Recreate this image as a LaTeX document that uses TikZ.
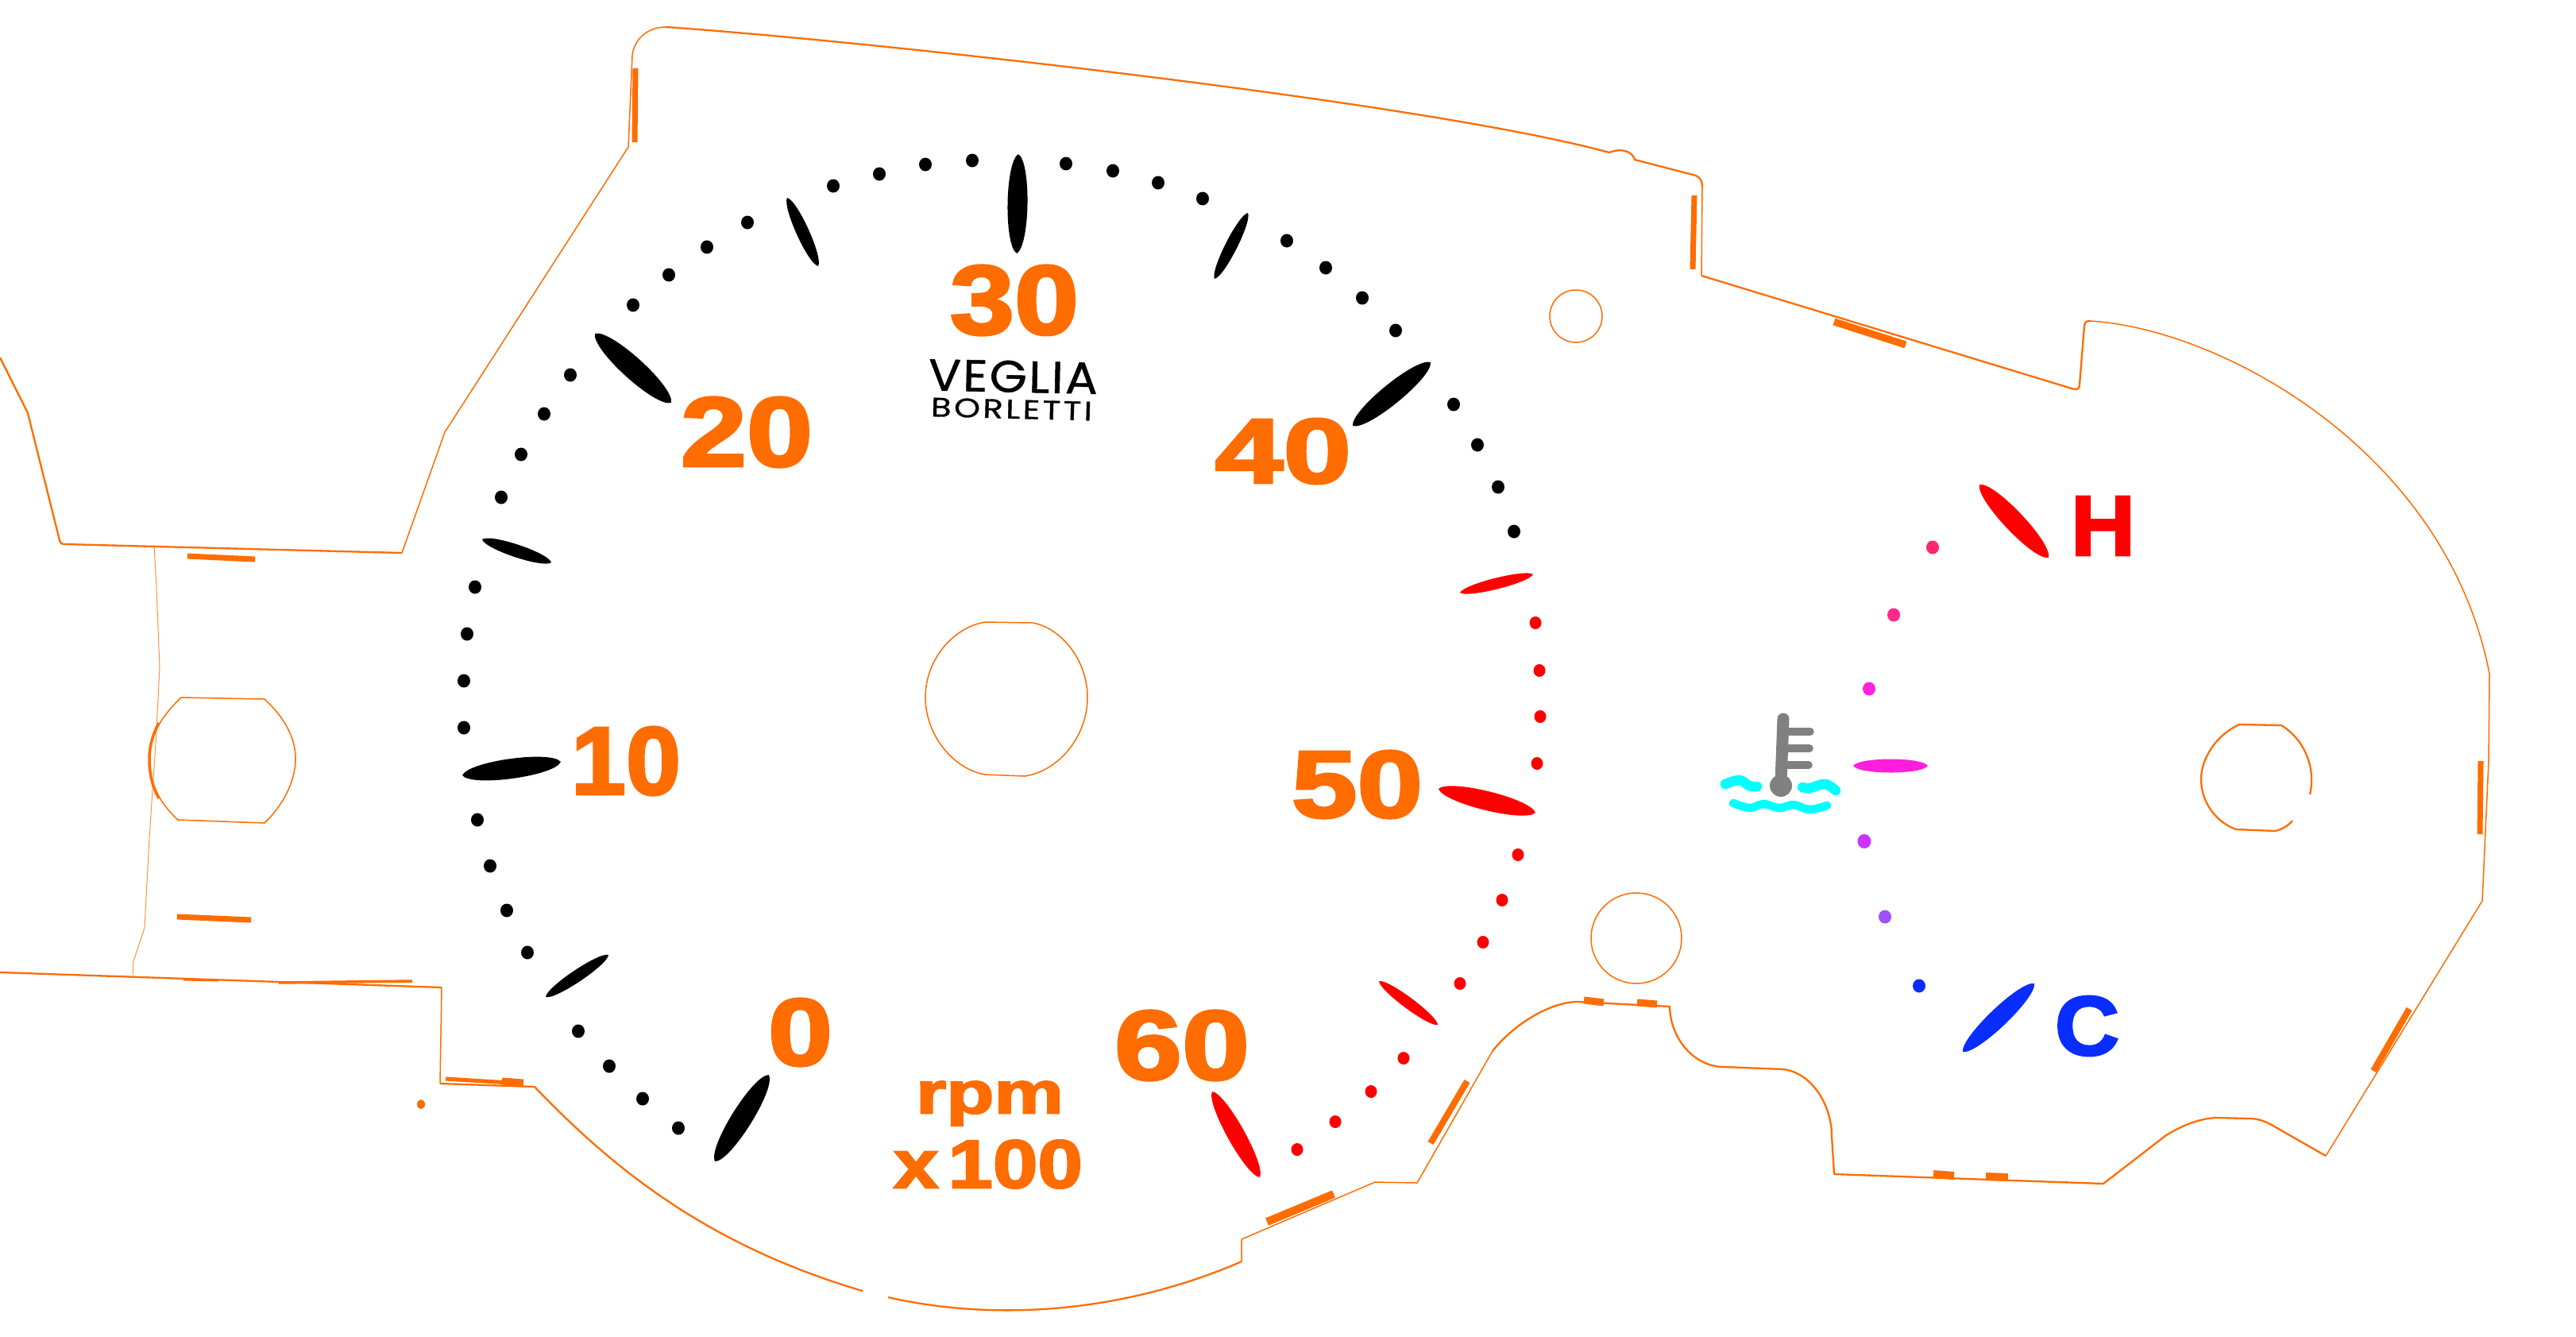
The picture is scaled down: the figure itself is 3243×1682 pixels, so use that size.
\documentclass[tikz,border=0pt]{standalone}
\usepackage{fontspec}
\newfontfamily\numfont[FakeBold=2.6]{Liberation Sans Bold}
\newfontfamily\logofont[FakeBold=0.9]{Poppins}
\definecolor{org}{HTML}{FF6C00}
\definecolor{rd}{HTML}{FF0000}
\definecolor{bl}{HTML}{0A2DFF}
\definecolor{mg}{HTML}{FF1EDC}
\definecolor{cy}{HTML}{00FFFF}
\definecolor{thermo}{HTML}{808080}
\tikzset{
  edge/.style={draw=org,line width=2.3pt,line join=round},
  thinedge/.style={draw=org,line width=1.5pt,line join=round},
  hair/.style={draw=org!75,line width=1pt,line join=round},
  slug/.style={draw=org,line width=7pt},
  lbl/.style={inner sep=0pt,outer sep=0pt,text=org},
  wave/.style={draw=cy,line cap=round,line join=round},
  therm/.style={draw=thermo,line cap=round},
}
\newcommand{\gaugetick}[6]{%
  \pgfmathsetmacro{\dxx}{#3-#1}\pgfmathsetmacro{\dyy}{#4-#2}%
  \pgfmathsetmacro{\lenn}{veclen(\dxx,\dyy)}%
  \pgfmathsetmacro{\nxx}{-\dyy/\lenn*#5*0.6667}\pgfmathsetmacro{\nyy}{\dxx/\lenn*#5*0.6667}%
  \fill[#6] (#1,#2) .. controls ({#1+.08*\dxx+\nxx},{#2+.08*\dyy+\nyy}) and ({#1+.92*\dxx+\nxx},{#2+.92*\dyy+\nyy}) .. (#3,#4)
    .. controls ({#1+.92*\dxx-\nxx},{#2+.92*\dyy-\nyy}) and ({#1+.08*\dxx-\nxx},{#2+.08*\dyy-\nyy}) .. cycle;%
}
\newcommand{\fittext}[7]{% name, x1, y1, x2, y2, colour, text
  \pgfmathsetmacro{\bw}{#4-#2}\pgfmathsetmacro{\bh}{#5-#3}%
  \node[lbl,text=#6] (#1) at ({(#2+#4)/2},{(#3+#5)/2}) {\resizebox*{\bw pt}{\bh pt}{#7}};%
}
\begin{document}
\begin{tikzpicture}[x=1pt,y=-1pt]
\useasboundingbox (0,0) rectangle (3243,1682);
% outline
\draw[edge] (0,450) -- (35,520) -- (75,680) .. controls (76,684) and (78,685) .. (82,685) -- (506,696);
\draw[thinedge] (506,696) -- (560,544) -- (791,185) -- (796,70)
  .. controls (798,50) and (815,34) .. (838,34);
\draw[edge] (838,34) .. controls (1100,52) and (1800,130) .. (2026,192);
\draw[edge] (2026,192) .. controls (2040,186) and (2055,190) .. (2058,201) -- (2135,221) .. controls (2141,224) and (2143,228) .. (2143,236);
\draw[thinedge] (2143,236) -- (2142,347);
\draw[edge] (2142,347) -- (2608,489) .. controls (2615,491) and (2618,490) .. (2618,484) -- (2624,410) .. controls (2625,405) and (2626,404) .. (2632,404);
\draw[thinedge] (2632,404) .. controls (2800,415) and (3080,570) .. (3134,848) -- (3133,958) -- (3125,1134) -- (2928,1455);
\draw[edge] (2928,1455) -- (2858,1415) .. controls (2845,1408) and (2835,1408) .. (2830,1408) -- (2790,1407) .. controls (2770,1408) and (2750,1415) .. (2727,1429) -- (2648,1490) -- (2309,1478) -- (2306,1430)
  .. controls (2306,1390) and (2280,1350) .. (2245,1346) -- (2170,1343) .. controls (2135,1343) and (2103,1310) .. (2102,1267) -- (1985,1261) .. controls (1950,1262) and (1905,1290) .. (1879,1323);
\draw[thinedge] (1879,1323) -- (1784,1489) -- (1731,1488) -- (1563,1560) -- (1563,1588);
\draw[edge] (1563,1588) .. controls (1420,1650) and (1260,1665) .. (1118,1633);
\draw[edge] (1086,1625) .. controls (900,1570) and (780,1480) .. (673,1368) -- (554,1364);
\draw[thinedge] (554,1364) -- (556,1243);
\draw[edge] (556,1243) -- (0,1224);
\draw[hair] (194,686) -- (197,740) -- (201,840) -- (196,937) -- (188,1055) -- (182,1168) -- (168,1210) -- (167,1229);
% holes
\draw[thinedge] (228,878) -- (333,880) .. controls (360,905) and (372,930) .. (372,955) .. controls (372,985) and (355,1015) .. (333,1036) -- (224,1032) .. controls (200,1010) and (188,985) .. (188,955) .. controls (188,925) and (205,900) .. cycle;
\draw[edge,line width=3.5pt] (200,910) .. controls (192,925) and (188,940) .. (188,955) .. controls (188,975) and (192,990) .. (200,1005);
\draw[thinedge] (1240,783) .. controls (1200,790) and (1165,830) .. (1165,878) .. controls (1165,925) and (1200,968) .. (1240,975) -- (1290,977) .. controls (1335,970) and (1369,925) .. (1369,878) .. controls (1369,830) and (1335,790) .. (1300,784) -- cycle;
\draw[thinedge] (1984,398) ellipse [x radius=33,y radius=33];
\draw[thinedge] (2060,1181) ellipse [x radius=57,y radius=57];
\draw[edge] (2908,1000) .. controls (2916,965) and (2900,930) .. (2872,913) -- (2819,912) .. controls (2790,925) and (2771,955) .. (2771,981) .. controls (2771,1010) and (2790,1035) .. (2815,1044) -- (2864,1046) .. controls (2873,1044) and (2880,1040) .. (2886,1033);
% thick marks
\draw[slug] (800,86) -- (799,179);
\draw[slug] (236,700) -- (321,704);
\draw[slug] (223,1154) -- (316,1158);
\draw[slug,line width=5pt] (561,1358) -- (659,1364);
\draw[slug,line width=9pt] (632,1361) -- (659,1363);
\draw[slug,line width=3pt] (231,1233) -- (275,1234);
\draw[slug,line width=3.5pt] (351,1237) -- (519,1235);
\fill[org] (530,1390) ellipse [x radius=5,y radius=6];
\draw[slug] (2133,246) -- (2131,339);
\draw[slug,line width=9pt] (2309,405) -- (2399,434);
\draw[slug,line width=8pt] (1847,1361) -- (1801,1439);
\draw[slug,line width=10pt] (1595,1538) -- (1679,1503);
\draw[slug,line width=9pt] (1994,1259) -- (2019,1262);
\draw[slug,line width=9pt] (2061,1262) -- (2086,1264);
\draw[slug] (3123,958) -- (3122,1050);
\draw[slug,line width=8pt] (3033,1270) -- (2988,1348);
\draw[slug,line width=10pt] (2434,1478) -- (2460,1480);
\draw[slug,line width=10pt] (2500,1481) -- (2528,1482);
% black dial dots
\foreach \x/\y in {588/798,598/739,631/626,656/572,685/521,718/472,797/384,842/346,890/311,941/280,1049/234,1107/219,1165/207,1224/202,1342/206,1401/215,1458/230,1514/250,1620/303,1669/337,1715/375,1757/416,1830/509,1860/560,1886/613,1906/669,584/857,584/916,601/1032,617/1090,638/1146,664/1199,728/1298,767/1342,809/1383,854/1420}
  \fill[black] (\x,\y) ellipse [x radius=8,y radius=8.5];
% red dial dots
\foreach \x/\y in {1933/784,1938/844,1939/902,1935/961,1911/1076,1891/1133,1867/1186,1838/1238,1767/1332,1726/1374,1681/1412,1633/1447}
  \fill[rd] (\x,\y) ellipse [x radius=7.5,y radius=8];
% ticks
\gaugetick{607}{679}{694}{708}{16}{black}
\gaugetick{749}{420}{845}{507}{27}{black}
\gaugetick{991}{249}{1030}{335}{16}{black}
\gaugetick{1282}{194}{1280}{319}{25}{black}
\gaugetick{1571}{268}{1529}{351}{15}{black}
\gaugetick{1801}{456}{1703}{536}{25}{black}
\gaugetick{582}{976}{706}{959}{25}{black}
\gaugetick{766}{1202}{687}{1255}{15}{black}
\gaugetick{968}{1353}{900}{1462}{26}{black}
\gaugetick{1930}{723}{1838}{746}{14}{rd}
\gaugetick{1811}{993}{1933}{1023}{24}{rd}
\gaugetick{1736}{1235}{1810}{1290}{14}{rd}
\gaugetick{1526}{1374}{1586}{1482}{22}{rd}
\gaugetick{2492}{610}{2579}{702}{25}{rd}
\gaugetick{2333}{964}{2427}{964}{17}{mg}
\gaugetick{2561}{1238}{2471}{1324}{23}{bl}
% temperature gauge dots
\fill[fill={rgb,255:red,255;green,40;blue,110}] (2433,689) ellipse [x radius=8,y radius=8.5];
\fill[fill={rgb,255:red,255;green,40;blue,140}] (2384,774) ellipse [x radius=8,y radius=8.5];
\fill[fill={rgb,255:red,255;green,34;blue,220}] (2353,867) ellipse [x radius=8,y radius=8.5];
\fill[fill={rgb,255:red,204;green,51;blue,255}] (2347,1059) ellipse [x radius=8.5,y radius=9];
\fill[fill={rgb,255:red,160;green,80;blue,255}] (2373,1154) ellipse [x radius=8,y radius=8.5];
\fill[bl] (2416,1241) ellipse [x radius=8,y radius=8.5];
% thermometer
\draw[therm,line width=15pt] (2245,905) -- (2242,985);
\fill[thermo] (2242,989) circle [radius=14];
\draw[therm,line width=9.5pt] (2250,921) -- (2279,921);
\draw[therm,line width=9.5pt] (2250,942) -- (2278,942);
\draw[therm,line width=9.5pt] (2250,963) -- (2277,963);
\draw[wave,line width=12.5pt] plot[smooth,tension=.6] coordinates {(2172,987) (2190,982) (2202,989) (2212,990)};
\draw[wave,line width=12.5pt] plot[smooth,tension=.6] coordinates {(2269,991) (2278,992) (2295,987) (2303,989) (2311,995)};
\draw[wave,line width=10.5pt] plot[smooth,tension=.6] coordinates {(2182,1011) (2203,1017) (2220,1012) (2240,1017) (2258,1013) (2278,1019) (2300,1014)};
% labels
\fittext{n20}{857}{500}{1023}{588}{org}{\numfont 20}
\fittext{n30}{1196}{334}{1358}{422}{org}{\numfont 30}
\fittext{n40}{1530}{527}{1701}{609}{org}{\numfont 40}
\fittext{n10}{719}{915}{857}{1001}{org}{\numfont 10}
\fittext{n0}{967}{1257}{1048}{1342}{org}{\numfont 0}
\fittext{n50}{1626}{945}{1791}{1030}{org}{\numfont 50}
\fittext{n60}{1403}{1272}{1573}{1360}{org}{\numfont 60}
\fittext{nrpm}{1153}{1361}{1339}{1417}{org}{\numfont rpm}
\fittext{nx}{1125}{1435}{1363}{1496}{org}{\numfont x\hspace{.12em}100}
\fittext{nH}{2607}{625}{2688}{699}{rd}{\numfont H}
\fittext{nC}{2587}{1254}{2668}{1329}{bl}{\numfont C}
\node[lbl,text=black,rotate=-1.2] (veglia) at (1275.5,474) {\resizebox*{213pt}{40pt}{\logofont\addfontfeature{LetterSpace=4}VEGLIA}};
\node[lbl,text=black,rotate=-1.5] (borletti) at (1273.5,515) {\resizebox*{203pt}{24pt}{\logofont\addfontfeature{LetterSpace=8}BORLETTI}};
\end{tikzpicture}
\end{document}
